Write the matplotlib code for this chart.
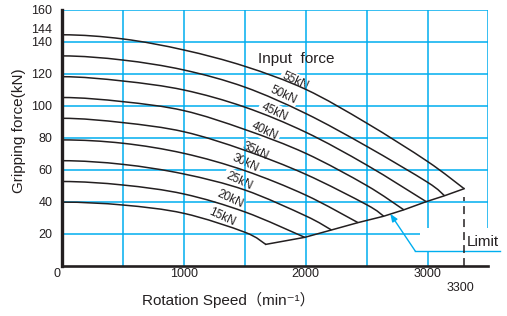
import matplotlib
matplotlib.use("Agg")
import matplotlib.pyplot as plt
from matplotlib.patches import Rectangle, PathPatch
from matplotlib.path import Path

# ---------------- data ----------------
force_labels = ["55kN", "50kN", "45kN", "40kN", "35kN", "30kN", "25kN", "20kN", "15kN"]
speed_grid = [0, 500, 1000, 1500, 2000, 2500, 3000]
grip_55 = [144.2, 141.6, 134.7, 124.5, 110.1, 89.0, 65.0]
grip_50 = [131.0, 128.4, 122.2, 111.5, 95.0, 74.5, 52.0]
grip_45 = [118.0, 115.3, 109.7, 99.0, 83.3, 62.8]
grip_40 = [105.0, 102.4, 96.8, 85.0, 70.1, 50.0]
grip_35 = [92.0, 89.3, 83.6, 72.0, 57.0, 38.0]
grip_30 = [78.5, 76.4, 70.1, 59.3, 44.0]
grip_25 = [65.5, 63.2, 57.2, 47.2, 31.0]
grip_20 = [52.5, 50.3, 44.7, 33.5]
grip_15 = [39.6, 37.8, 32.6, 20.8]
# end points on the limit line (55kN ... 15kN)
end_speed = [3300, 3139, 2989, 2805, 2640, 2429, 2211, 1992, 1672]
end_grip = [48.0, 43.6, 39.9, 34.8, 30.8, 26.8, 22.2, 17.6, 13.2]

label_speed = [1915, 1814, 1740, 1664, 1590, 1506, 1451, 1377, 1309]
label_grip = [115.0, 106.6, 96.1, 83.8, 71.5, 63.9, 53.0, 41.4, 30.1]

x_ticks = [0, 1000, 2000, 3000]
x_grid = [500, 1000, 1500, 2000, 2500, 3000, 3500]
y_ticks = [20, 40, 60, 80, 100, 120, 140, 160]
y_grid = [20, 40, 60, 80, 100, 120, 140, 160]
extra_y_tick = 144
max_speed = 3300

# ---------------- style ----------------
BLUE = "#00aeef"
INK = "#231f20"
FONT = ["Liberation Sans", "Noto Sans CJK JP", "DejaVu Sans"]
plt.rcParams["font.family"] = FONT

fig = plt.figure(figsize=(5.07, 3.16), dpi=100)
W, H = 507, 316
x0, x1, y0, y1 = 62, 488.5, 265.5, 9.5
ax = fig.add_axes([x0 / W, 1 - y0 / H, (x1 - x0) / W, (y0 - y1) / H])
ax.set_xlim(0, 3500)
ax.set_ylim(0, 160)

# grid
for g in y_grid:
    ax.axhline(g, color=BLUE, lw=1.1, zorder=1)
for g in x_grid:
    ax.axvline(g, color=BLUE, lw=1.1, zorder=3)


def smooth_path(xs, ys):
    """Catmull-Rom spline through the points, drawn as cubic Bezier segments."""
    pts = list(zip(xs, ys))
    n = len(pts)
    ext = [(-pts[1][0], pts[1][1])] + pts + [pts[-1]]
    verts = [pts[0]]
    codes = [Path.MOVETO]
    for i in range(n - 1):
        p0, p1, p2, p3 = ext[i], ext[i + 1], ext[i + 2], ext[i + 3]
        c1 = (p1[0] + (p2[0] - p0[0]) / 6, p1[1] + (p2[1] - p0[1]) / 6)
        c2 = (p2[0] - (p3[0] - p1[0]) / 6, p2[1] - (p3[1] - p1[1]) / 6)
        verts += [c1, c2, p2]
        codes += [Path.CURVE4] * 3
    return Path(verts, codes)


curves = [grip_55, grip_50, grip_45, grip_40, grip_35, grip_30, grip_25, grip_20, grip_15]
for vals, es, eg in zip(curves, end_speed, end_grip):
    xs = speed_grid[:len(vals)] + [es]
    ys = list(vals) + [eg]
    ax.add_patch(PathPatch(smooth_path(xs, ys), fill=False, ec=INK, lw=1.1, zorder=4))

# limit line
ax.plot(end_speed, end_grip, color=INK, lw=1.1, zorder=4)

# curve labels
for lab, lx, ly in zip(force_labels, label_speed, label_grip):
    ax.text(lx, ly, lab, rotation=-25, rotation_mode="anchor", ha="center", va="center",
            fontsize=8.5, color=INK, zorder=2,
            bbox=dict(fc="white", ec="none", pad=1.5))

ax.text(1925, 129.3, "Input  force", ha="center", va="center", fontsize=11, color=INK, zorder=5)

# white area behind "Limit"
ax.add_patch(Rectangle((2934, 8.9), 700, 14.5, fc="white", ec="none", zorder=3.5, clip_on=False))
ax.add_patch(Rectangle((3350, 0), 300, 23.4, fc="white", ec="none", zorder=3.5, clip_on=False))

# dashed limit speed line
ax.plot([max_speed, max_speed], [0, 43], color=INK, lw=1.1, linestyle=(0, (5.2, 3.3)), zorder=4.5)

# leader
ax.plot([3594, 2900], [8.9, 8.9], color=BLUE, lw=1.0, zorder=4, clip_on=False)
ax.annotate("", xy=(2694, 32.3), xytext=(2900, 8.9),
            arrowprops=dict(arrowstyle="-|>,head_length=0.45,head_width=0.18", color=BLUE, lw=1.0,
                            shrinkA=0, shrinkB=0), zorder=4)
ax.text(3452, 15, "Limit", ha="center", va="center", fontsize=11, color=INK, zorder=5)

# axes
for s in ["top", "right"]:
    ax.spines[s].set_visible(False)
ax.spines["left"].set_linewidth(2.4)
ax.spines["bottom"].set_linewidth(1.9)
for s in ["left", "bottom"]:
    ax.spines[s].set_color(INK)
    ax.spines[s].set_zorder(6)

ax.set_xticks(x_ticks)
ax.set_xticklabels(["" if t == 0 else str(t) for t in x_ticks])
ax.set_yticks(y_ticks)
ax.set_yticklabels([str(t) for t in y_ticks])
ax.tick_params(axis="both", length=0, labelsize=9, colors=INK)
ax.tick_params(axis="x", pad=2)
ax.tick_params(axis="y", pad=6.8)

ax.annotate(str(extra_y_tick), xy=(0, extra_y_tick), xycoords=("axes fraction", "data"),
            xytext=(-6.8, 3.9), textcoords="offset points", ha="right", va="center",
            fontsize=9, color=INK, annotation_clip=False)
ax.annotate("0", xy=(0, 0), xytext=(-3.8, -6.3), textcoords="offset points",
            ha="center", va="center", fontsize=9, color=INK, annotation_clip=False)
ax.annotate(str(max_speed), xy=(max_speed, 0), xytext=(-2.4, -16.4), textcoords="offset points",
            ha="center", va="center", fontsize=9, color=INK, annotation_clip=False)

fig.text(228 / W, 1 - 300 / H, "Rotation Speed（min⁻¹）", ha="center", va="center",
         fontsize=11, color=INK)
fig.text(19 / W, 1 - 131 / H, "Gripping force(kN)", rotation=90, ha="center", va="center",
         fontsize=11, color=INK)

fig.savefig("out.png", dpi=100)
